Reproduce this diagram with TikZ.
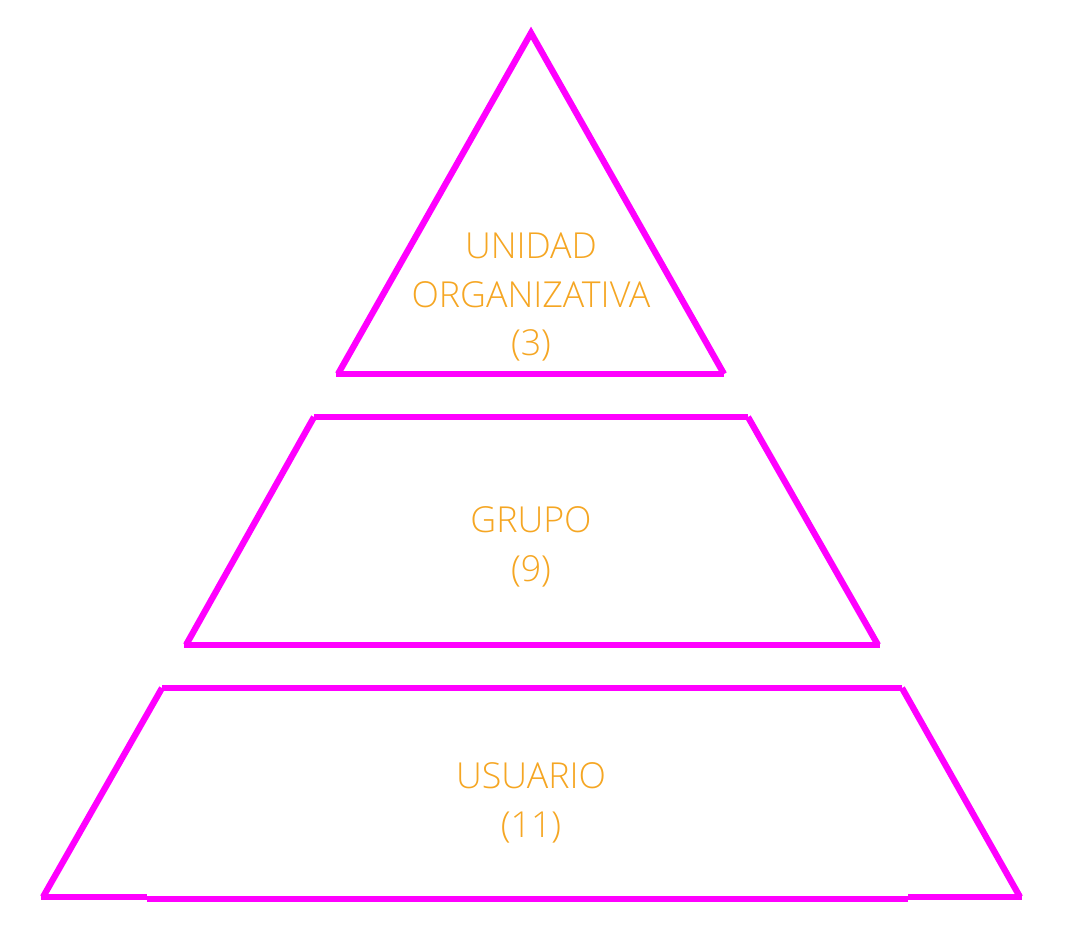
\documentclass[tikz,border=0pt]{standalone}
\usepackage{fontspec}
\setmainfont{Open Sans Light}
\definecolor{mag}{HTML}{FF00FF}
\definecolor{org}{HTML}{F5A623}
\begin{document}
\begin{tikzpicture}[x=1pt,y=-1pt,
  edge/.style={draw=mag,line width=6.3pt,line cap=butt,line join=miter},
  lbl/.style={text=org,align=center,inner sep=0pt,font=\fontsize{35.8}{48.5}\selectfont}]
\useasboundingbox (0,0) rectangle (1066,948);
% triangle
\draw[edge] (338,374) -- (531,33) -- (724,374);
\draw[edge] (336,374) -- (724,374);
% middle trapezoid
\draw[edge] (314,417) -- (748,417);
\draw[edge] (314,417) -- (186,645);
\draw[edge] (748,417) -- (878,645);
\draw[edge] (184,645) -- (880,645);
% bottom trapezoid
\draw[edge] (162,688) -- (902,688);
\draw[edge] (162,688) -- (43,897);
\draw[edge] (902,688) -- (1020,897);
\draw[edge] (41,897) -- (147,897);
\draw[edge] (147,899) -- (908,899);
\draw[edge] (908,897) -- (1022,897);
% labels
\node[lbl] (top) at (531,297) {UNIDAD\\ORGANIZATIVA\\(3)};
\node[lbl] (mid) at (531,547) {GRUPO\\(9)};
\node[lbl] (bot) at (531,803) {USUARIO\\(11)};
\end{tikzpicture}
\end{document}
